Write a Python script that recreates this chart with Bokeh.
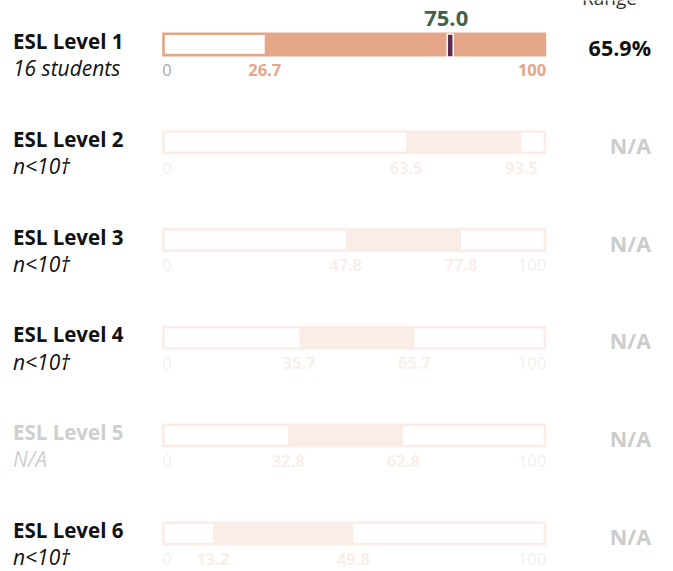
from bokeh.plotting import figure
from bokeh.models import Range1d, ColumnDataSource
from bokeh.core.properties import value
from bokeh.embed import file_html
from bokeh.resources import INLINE

# ---------------- data ----------------
levels = ["ESL Level 1", "ESL Level 2", "ESL Level 3", "ESL Level 4", "ESL Level 5", "ESL Level 6"]
subtitles = ["16 students", "n<10\u2020", "n<10\u2020", "n<10\u2020", "N/A", "n<10\u2020"]
range_low = [26.7, 63.5, 47.8, 35.7, 32.8, 13.2]
range_high = [100.0, 93.5, 77.8, 65.7, 62.8, 49.8]
scores = [75.0, None, None, None, None, None]
range_values = ["65.9%", "N/A", "N/A", "N/A", "N/A", "N/A"]
has_data = [True, False, False, False, False, False]
has_label = [True, True, True, True, False, True]
axis_min, axis_max = 0, 100
header = "Range"

# ---------------- layout / style ----------------
W, H = 673, 571
X0_PX, X100_PX = 161.7, 545.7          # px of 0 and 100
ROW0_PX, ROW_STEP = 43.9, 97.8          # px of row 0 centre, row spacing
TXT = -7.5                              # baseline correction for text glyphs
UPX = (axis_max - axis_min) / (X100_PX - X0_PX)   # data units per px (x)
x_start = axis_min - X0_PX * UPX
x_end = x_start + W * UPX
y_top = -ROW0_PX / ROW_STEP
y_bot = (H - ROW0_PX) / ROW_STEP


def px_x(px):
    return x_start + px * UPX


def dy(px):
    return px / ROW_STEP


def ty_(i, px):
    return i + dy(px + TXT)


SALMON = "#E5A587"
PURPLE = "#5C2D50"
GREEN = "#43614F"
FONT = value("Open Sans")
BAR_H = 24
INSET = 2.6
FADE = 0.2

p = figure(width=W, height=H, output_backend="svg", toolbar_location=None,
           x_range=Range1d(x_start, x_end), y_range=Range1d(y_bot, y_top),
           min_border=0, outline_line_color=None)
p.axis.visible = False
p.grid.visible = False
p.background_fill_color = "white"
p.border_fill_color = "white"

n = len(levels)
alphas = [1.0 if d else FADE for d in has_data]

# outer bars (border + range colour)
p.hbar(y=list(range(n)), left=[axis_min] * n, right=[axis_max] * n,
       height=dy(BAR_H), fill_color=SALMON, fill_alpha=alphas, line_color=None)

# white (outside range) segments
wy, wl, wr = [], [], []
for i in range(n):
    if range_low[i] > axis_min:
        wy.append(i); wl.append(axis_min + INSET * UPX); wr.append(range_low[i])
    if range_high[i] < axis_max:
        wy.append(i); wl.append(range_high[i]); wr.append(axis_max - INSET * UPX)
p.hbar(y=wy, left=wl, right=wr, height=dy(BAR_H - 2 * INSET),
       fill_color="white", line_color=None)

# score markers
for i, s in enumerate(scores):
    if s is None:
        continue
    p.rect(x=[s], y=[i + dy(1.2)], width=6, height=23, width_units="screen",
           height_units="screen", fill_color=PURPLE, line_color="white", line_width=1.5)
    p.text(x=[s], y=[ty_(i, -18.2)], text=[f"{s:.1f}"], text_font=FONT,
           text_font_size="22px", text_font_style="bold", text_color=GREEN,
           text_align="center", text_baseline="alphabetic", x_offset=-4)

# tick labels under bars
tx, ty, tt, tc, ta, tal, tst = [], [], [], [], [], [], []
for i in range(n):
    a = alphas[i]
    base = ty_(i, 32.8)
    tx.append(axis_min); ty.append(base); tt.append(f"{axis_min}"); tc.append("#aaaaaa")
    ta.append(a); tal.append("left"); tst.append("normal")
    if range_low[i] > axis_min:
        tx.append(range_low[i]); ty.append(base); tt.append(f"{range_low[i]:.1f}")
        tc.append(SALMON); ta.append(a); tal.append("center"); tst.append("bold")
    if range_high[i] >= axis_max:
        tx.append(axis_max); ty.append(base); tt.append(f"{axis_max}")
        tc.append(SALMON); ta.append(a); tal.append("right"); tst.append("bold")
    else:
        tx.append(range_high[i]); ty.append(base); tt.append(f"{range_high[i]:.1f}")
        tc.append(SALMON); ta.append(a); tal.append("center"); tst.append("bold")
        if range_high[i] < 90:
            tx.append(axis_max); ty.append(base); tt.append(f"{axis_max}")
            tc.append("#aaaaaa"); ta.append(a); tal.append("right"); tst.append("normal")
tsrc = ColumnDataSource(dict(x=tx, y=ty, t=tt, c=tc, a=ta, al=tal, st=tst))
p.text(x="x", y="y", text="t", text_color="c", text_alpha="a", text_align="al",
       text_font_style="st", text_font=FONT, text_font_size="16.5px",
       text_baseline="alphabetic", source=tsrc)

# left labels
lab_colors = ["#111111" if h else "#cfcfcf" for h in has_label]
p.text(x=[px_x(12.5)] * n, y=[ty_(i, 4) for i in range(n)], text=levels,
       text_color=lab_colors, text_font=FONT, text_font_size="20.5px",
       text_font_style="bold", text_baseline="alphabetic", text_align="left")
p.text(x=[px_x(12.5)] * n, y=[ty_(i, 31.2) for i in range(n)], text=subtitles,
       text_color=lab_colors, text_font=FONT, text_font_size="21px",
       text_font_style="italic", text_baseline="alphabetic", text_align="left")

# right column
val_colors = ["#111111" if d else "#cccccc" for d in has_data]
p.text(x=[px_x(650.5)] * n, y=[ty_(i, 10.5) for i in range(n)], text=range_values,
       text_color=val_colors, text_font=FONT, text_font_size="21.5px",
       text_font_style="bold", text_baseline="alphabetic", text_align="right")
p.text(x=[px_x(609)], y=[ty_(0, -39.2)], text=[header], text_color="#333333",
       text_font=FONT, text_font_size="19px", text_baseline="alphabetic",
       text_align="center")

open("out.html", "w").write(file_html(p, INLINE))
